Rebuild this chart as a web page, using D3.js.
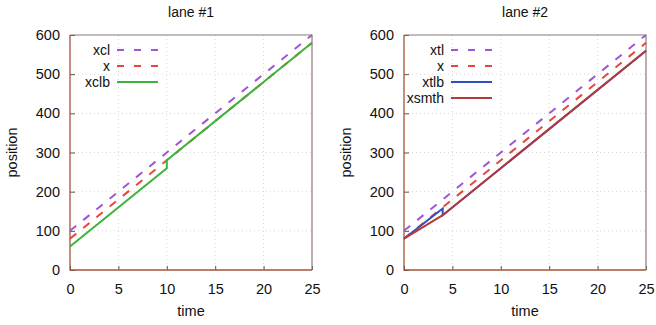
<!DOCTYPE html>
<html>
<head>
<meta charset="utf-8">
<script src="https://cdnjs.cloudflare.com/ajax/libs/d3/7.8.5/d3.min.js"></script>
<style>
  body { margin: 0; background: #fff; }
  svg { font-family: "Liberation Sans", Arial, sans-serif; }
</style>
</head>
<body>
<svg id="chart" width="656" height="325"></svg>
<script>
// tick labels
const xTicks = [0, 5, 10, 15, 20, 25];
const yTicks = [0, 100, 200, 300, 400, 500, 600];

// lane #1
const lane1Title = "lane #1";
const l1_xcl_t = [0, 25],            l1_xcl = [100, 600];
const l1_x_t = [0, 25],              l1_x = [80, 580];
const l1_xclb_t = [0, 10, 10, 25],   l1_xclb = [60, 260, 280, 580];

// lane #2
const lane2Title = "lane #2";
const l2_xtl_t = [0, 25],            l2_xtl = [100, 600];
const l2_x_t = [0, 25],              l2_x = [80, 580];
const l2_xtlb_t = [0, 4, 4, 25],     l2_xtlb = [80, 157, 140, 560];
const l2_xsmth_t = [0, 4, 25],       l2_xsmth = [80, 140, 560];

const purple = "#a055d6", red = "#e8453c", green = "#3cb43c",
      blue = "#2e50c0", brown = "#b43a3a";

const svg = d3.select("#chart");
svg.append("rect").attr("width", 656).attr("height", 325).attr("fill", "#fff");

const plotTop = 35, plotBottom = 270;

function zip(ts, vs) { return ts.map((t, i) => [t, vs[i]]); }

function drawPanel(left, right, title, series) {
    const x = d3.scaleLinear().domain([0, 25]).range([left, right]);
    const y = d3.scaleLinear().domain([0, 600]).range([plotBottom, plotTop]);
    const g = svg.append("g");

    // grid
    g.selectAll(".gx").data(xTicks.slice(1, -1)).enter().append("line")
        .attr("x1", d => x(d)).attr("x2", d => x(d))
        .attr("y1", plotTop).attr("y2", plotBottom)
        .attr("stroke", "#d6d6d6").attr("stroke-dasharray", "1,3");
    g.selectAll(".gy").data(yTicks.slice(1, -1)).enter().append("line")
        .attr("x1", left).attr("x2", right)
        .attr("y1", d => y(d)).attr("y2", d => y(d))
        .attr("stroke", "#d6d6d6").attr("stroke-dasharray", "1,3");

    // axes with inward ticks
    const ax = g.append("g").attr("transform", `translate(0,${plotBottom})`)
        .call(d3.axisBottom(x).tickValues(xTicks).tickSize(-4).tickPadding(10));
    const ay = g.append("g").attr("transform", `translate(${left},0)`)
        .call(d3.axisLeft(y).tickValues(yTicks).tickSize(-5).tickPadding(10));
    [ax, ay].forEach(a => {
        a.select(".domain").remove();
        a.selectAll(".tick line").attr("stroke", "#555");
        a.selectAll("text").attr("font-size", "14.5px").attr("fill", "#111")
            .attr("font-family", "Liberation Sans, Arial, sans-serif");
    });
    ax.selectAll("text").attr("dy", "0.95em");

    // frame
    g.append("path")
        .attr("d", `M${left},${plotTop}H${right}V${plotBottom}`)
        .attr("fill", "none").attr("stroke", "#8c7b76").attr("stroke-width", 1.2);
    g.append("path")
        .attr("d", `M${left},${plotTop}V${plotBottom}H${right}`)
        .attr("fill", "none").attr("stroke", "#a5523a").attr("stroke-width", 1.3);

    // series
    const line = d3.line().x(d => x(d[0])).y(d => y(d[1]));
    series.forEach(s => {
        g.append("path").datum(zip(s.t, s.v))
            .attr("d", line)
            .attr("fill", "none")
            .attr("stroke", s.color)
            .attr("stroke-width", 2)
            .attr("stroke-dasharray", s.dash ? "8,9" : null);
    });

    // legend
    const lg = g.selectAll(".leg").data(series).enter().append("g")
        .attr("transform", (d, i) => `translate(${left},${50 + i * 16})`);
    lg.append("text").attr("x", 40).attr("dy", "0.35em")
        .attr("text-anchor", "end").attr("font-size", "14px").attr("fill", "#111")
        .text(d => d.name);
    lg.append("line").attr("x1", 47).attr("x2", 88)
        .attr("stroke", d => d.color).attr("stroke-width", 2)
        .attr("stroke-dasharray", d => d.dash ? "7,10" : null);

    // titles
    const cx = (left + right) / 2;
    svg.append("text").attr("x", cx).attr("y", 17).attr("text-anchor", "middle")
        .attr("font-size", "14px").attr("fill", "#111").text(title);
    svg.append("text").attr("x", cx).attr("y", 316).attr("text-anchor", "middle")
        .attr("font-size", "14.5px").attr("fill", "#111").text("time");
    svg.append("text")
        .attr("transform", `translate(${left - 53},${(plotTop + plotBottom) / 2}) rotate(-90)`)
        .attr("text-anchor", "middle").attr("font-size", "14.5px").attr("fill", "#111")
        .text("position");
}

drawPanel(70, 312, lane1Title, [
    { name: "xcl", t: l1_xcl_t, v: l1_xcl, color: purple, dash: true },
    { name: "x", t: l1_x_t, v: l1_x, color: red, dash: true },
    { name: "xclb", t: l1_xclb_t, v: l1_xclb, color: green, dash: false }
]);

drawPanel(404, 646, lane2Title, [
    { name: "xtl", t: l2_xtl_t, v: l2_xtl, color: purple, dash: true },
    { name: "x", t: l2_x_t, v: l2_x, color: red, dash: true },
    { name: "xtlb", t: l2_xtlb_t, v: l2_xtlb, color: blue, dash: false },
    { name: "xsmth", t: l2_xsmth_t, v: l2_xsmth, color: brown, dash: false }
]);
</script>
</body>
</html>
